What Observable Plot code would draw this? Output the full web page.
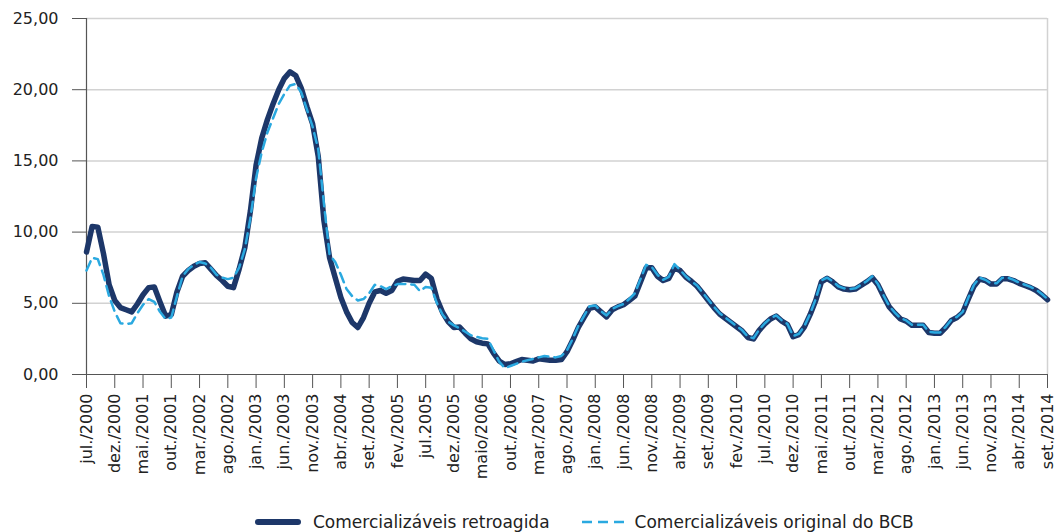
<!DOCTYPE html>
<html>
<head>
<meta charset="utf-8">
<script src="https://cdn.jsdelivr.net/npm/d3@7"></script>
<script src="https://cdn.jsdelivr.net/npm/@observablehq/plot@0.6"></script>
<style>
  body { margin: 0; background: #fff; font-family: "DejaVu Sans", "Open Sans", sans-serif; }
  #chart svg { display: block; }
  .legend { display: flex; align-items: center; height: 24px; margin-top: 20px; padding-left: 255px; font-size: 17px; color: #222; }
  .legend .item { display: flex; align-items: center; }
  .legend svg { display: block; }
</style>
</head>
<body>
<div id="chart"></div>
<div class="legend">
  <div class="item"><svg width="46" height="12"><line x1="3" y1="6" x2="43" y2="6" stroke="#1d3769" stroke-width="6" stroke-linecap="round"/></svg><span style="margin-left:12px">Comercializáveis retroagida</span></div>
  <div class="item" style="margin-left:30px"><svg width="46" height="12"><line x1="2" y1="6" x2="44" y2="6" stroke="#2aa9e0" stroke-width="2.5" stroke-dasharray="10,6"/></svg><span style="margin-left:9px">Comercializáveis original do BCB</span></div>
</div>
<script>
const xLabels = ["jul./2000","dez./2000","mai./2001","out./2001","mar./2002","ago./2002","jan./2003","jun./2003","nov./2003","abr./2004","set./2004","fev./2005","jul.2005","dez./2005","maio/2006","out./2006","mar./2007","ago./2007","jan./2008","jun./2008","nov./2008","abr./2009","set./2009","fev./2010","jul./2010","dez./2010","mai./2011","out./2011","mar./2012","ago./2012","jan./2013","jun./2013","nov./2013","abr./2014","set./2014"];
const yTicks = [0, 5, 10, 15, 20, 25];

// Comercializáveis retroagida (monthly, jul/2000 .. set/2014)
const retroagida = [
  8.6,10.4,10.35,8.5,6.3,5.2,4.7,4.55,4.4,4.95,
  5.6,6.1,6.15,5.1,4.1,4.2,5.8,6.9,7.3,7.6,
  7.8,7.85,7.4,6.95,6.6,6.2,6.1,7.4,8.9,11.5,
  14.7,16.6,17.9,19.0,20.0,20.8,21.25,21.0,20.1,18.8,
  17.6,15.3,10.8,8.2,6.8,5.4,4.4,3.65,3.3,4.0,
  5.0,5.8,5.9,5.7,5.9,6.55,6.7,6.65,6.6,6.6,
  7.05,6.75,5.3,4.35,3.7,3.3,3.33,2.9,2.5,2.3,
  2.2,2.15,1.5,0.95,0.7,0.75,0.9,1.05,1.0,0.95,
  1.1,1.05,1.0,1.0,1.05,1.6,2.4,3.3,4.0,4.65,
  4.75,4.4,4.05,4.55,4.75,4.9,5.2,5.5,6.5,7.5,
  7.5,6.9,6.6,6.75,7.5,7.3,6.85,6.55,6.2,5.7,
  5.2,4.7,4.25,3.95,3.65,3.35,3.05,2.6,2.5,3.1,
  3.55,3.9,4.1,3.75,3.5,2.65,2.8,3.35,4.2,5.2,
  6.5,6.75,6.5,6.15,6.0,5.95,6.0,6.25,6.5,6.8,
  6.3,5.5,4.75,4.3,3.9,3.75,3.45,3.45,3.45,2.95,
  2.9,2.9,3.3,3.8,4.0,4.35,5.3,6.2,6.7,6.6,
  6.35,6.35,6.72,6.72,6.6,6.4,6.25,6.1,5.9,5.6,
  5.25
];

// Comercializáveis original do BCB
const originalBCB = [
  7.3,8.2,8.1,7.0,5.5,4.4,3.6,3.55,3.6,4.3,
  4.9,5.3,5.1,4.4,3.9,4.0,5.5,6.9,7.4,7.7,
  7.9,7.8,7.5,7.0,6.8,6.7,6.8,7.5,8.8,11.0,
  13.8,15.6,17.0,18.0,19.0,19.7,20.3,20.4,19.8,18.6,
  17.4,15.8,12.0,8.4,7.9,7.0,6.0,5.5,5.2,5.3,
  5.7,6.3,6.2,6.0,6.2,6.35,6.35,6.35,6.3,5.85,
  6.15,6.1,5.0,4.2,3.7,3.45,3.25,3.0,2.75,2.65,
  2.55,2.5,1.7,0.9,0.45,0.6,0.75,0.9,1.0,1.1,
  1.2,1.3,1.25,1.2,1.3,1.7,2.5,3.4,4.1,4.8,
  4.85,4.45,4.15,4.6,4.8,4.95,5.3,5.7,6.7,7.7,
  7.55,7.0,6.65,6.85,7.75,7.35,6.9,6.55,6.25,5.75,
  5.25,4.75,4.3,4.0,3.7,3.4,3.1,2.65,2.55,3.15,
  3.6,3.95,4.15,3.8,3.55,2.7,2.85,3.4,4.25,5.3,
  6.6,6.8,6.55,6.2,6.05,6.0,6.05,6.3,6.55,6.9,
  6.35,5.55,4.8,4.35,3.95,3.8,3.5,3.5,3.5,3.0,
  2.95,2.95,3.35,3.85,4.05,4.4,5.4,6.3,6.8,6.65,
  6.4,6.4,6.8,6.8,6.65,6.45,6.3,6.15,5.95,5.65,
  5.3
];

const fmt = d => d.toFixed(2).replace(".", ",");

const chart = Plot.plot({
  width: 1057,
  height: 490,
  marginLeft: 86,
  marginRight: 10,
  marginTop: 18,
  marginBottom: 116,
  style: { fontFamily: "'DejaVu Sans', 'Open Sans', sans-serif", fontSize: "16px", color: "#222", background: "#fff" },
  x: { domain: [0, 170], label: null },
  y: { domain: [0, 25], label: null },
  marks: [
    Plot.gridY(yTicks.slice(1), { stroke: "#d2d2d2", strokeOpacity: 1, strokeWidth: 1.5 }),
    Plot.ruleX([170], { stroke: "#d2d2d2", strokeWidth: 1.5 }),
    Plot.axisY(yTicks, { tickSize: 14, tickPadding: 14, tickFormat: fmt, stroke: "#555", fill: "#222", fontSize: 16, label: null }),
    Plot.axisX(d3.range(0, 171, 5), { tickSize: 14, tickPadding: 5, tickRotate: -90, tickFormat: i => xLabels[i / 5], stroke: "#555", fill: "#222", fontSize: 16, label: null }),
    Plot.ruleY([0], { stroke: "#555", strokeWidth: 1.2 }),
    Plot.ruleX([0], { stroke: "#555", strokeWidth: 1.2 }),
    Plot.lineY(retroagida, { x: (d, i) => i, y: d => d, stroke: "#1d3769", strokeWidth: 5.5, strokeLinejoin: "round", strokeLinecap: "round" }),
    Plot.lineY(originalBCB, { x: (d, i) => i, y: d => d, stroke: "#2aa9e0", strokeWidth: 2.5, strokeDasharray: "10,6" })
  ]
});
document.getElementById("chart").appendChild(chart);
</script>
</body>
</html>
